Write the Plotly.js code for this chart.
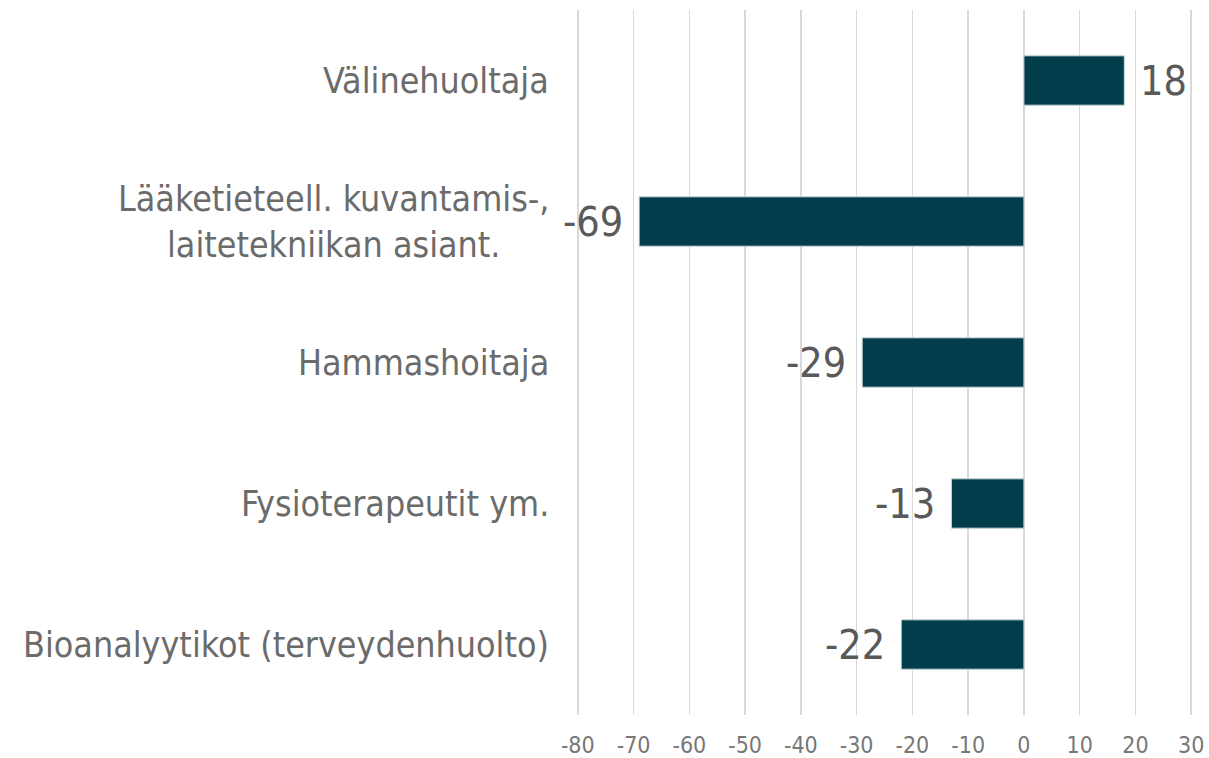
<!DOCTYPE html>
<html>
<head>
<meta charset="utf-8">
<script src="https://cdn.plot.ly/plotly-3.0.1.min.js"></script>
<style>html,body{margin:0;padding:0;background:#fff}#chart{width:1209px;height:758px}</style>
</head>
<body>
<div id="chart"></div>
<script>
const categories = [
  "Välinehuoltaja",
  "Lääketieteell. kuvantamis-,<br>laitetekniikan asiant.",
  "Hammashoitaja",
  "Fysioterapeutit ym.",
  "Bioanalyytikot (terveydenhuolto)"
];
const values = [18, -69, -29, -13, -22];
const tickValues = [-80, -70, -60, -50, -40, -30, -20, -10, 0, 10, 20, 30];

const FONT = '"DejaVu Sans Condensed", "DejaVu Sans", Verdana, sans-serif';

const trace = {
  type: 'bar',
  orientation: 'h',
  x: values,
  y: categories,
  marker: {color: '#023d4b', line: {color: '#c9d6da', width: 1}},
  hoverinfo: 'skip'
};

const annotations = [];
categories.forEach((c, i) => {
  annotations.push({
    xref: 'paper', yref: 'y', x: 0, y: c,
    xanchor: 'right', yanchor: 'middle', xshift: -24,
    text: c, showarrow: false, align: 'center',
    font: {family: FONT, size: 35.5, color: '#6b6b6b'}
  });
  const v = values[i];
  annotations.push({
    xref: 'x', yref: 'y', x: v, y: c,
    xanchor: v >= 0 ? 'left' : 'right', yanchor: 'middle',
    xshift: v >= 0 ? 14 : -14,
    text: String(v), showarrow: false,
    font: {family: FONT, size: 41, color: '#595959'}
  });
});

const layout = {
  width: 1209, height: 758,
  margin: {l: 575, r: 15, t: 10, b: 43},
  paper_bgcolor: '#ffffff', plot_bgcolor: '#ffffff',
  showlegend: false,
  bargap: 0.65,
  xaxis: {
    range: [-80.5, 30.5],
    tickvals: tickValues,
    ticktext: tickValues.map(String),
    showgrid: true, gridcolor: '#d9d9d9', gridwidth: 1.5,
    zeroline: false, showline: false, ticks: '',
    ticklabelstandoff: 14,
    tickfont: {family: FONT, size: 23, color: '#777777'},
    fixedrange: true
  },
  yaxis: {
    autorange: 'reversed',
    showticklabels: false, showgrid: false, zeroline: false, showline: false, ticks: '',
    fixedrange: true
  },
  annotations: annotations
};

Plotly.newPlot('chart', [trace], layout, {displayModeBar: false, staticPlot: true});
</script>
</body>
</html>
